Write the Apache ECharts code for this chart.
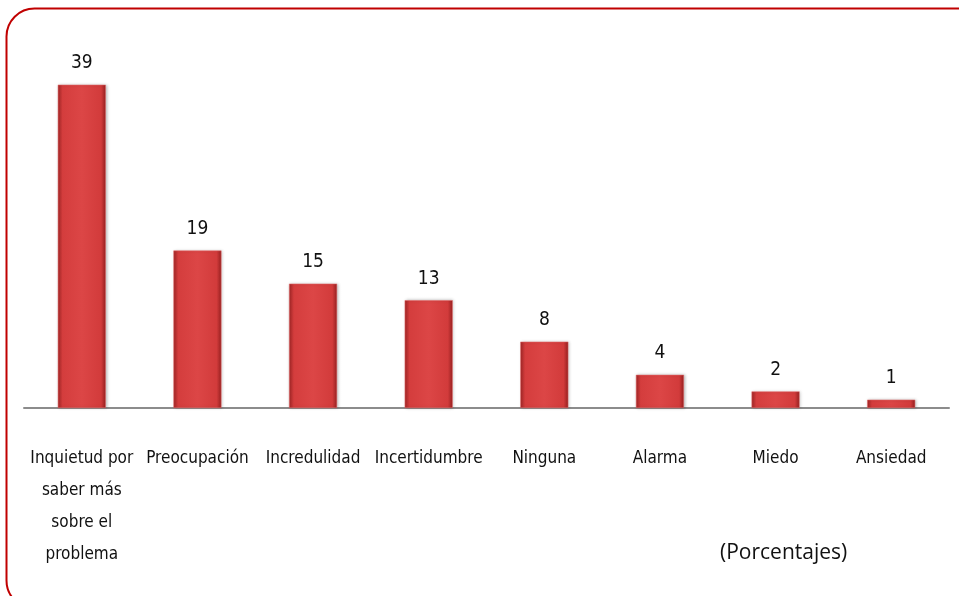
<!DOCTYPE html>
<html>
<head>
<meta charset="utf-8">
<style>
  html, body { margin: 0; padding: 0; background: #fff; }
  #chart { width: 959px; height: 596px; }
</style>
<script src="https://cdn.jsdelivr.net/npm/echarts@6/dist/echarts.min.js"></script>
</head>
<body>
<div id="chart"></div>
<script>
// categorías y valores (porcentajes)
const categories = [
  'Inquietud por\nsaber más\nsobre el\nproblema',
  'Preocupación',
  'Incredulidad',
  'Incertidumbre',
  'Ninguna',
  'Alarma',
  'Miedo',
  'Ansiedad'
];
const values = [39, 19, 15, 13, 8, 4, 2, 1];

const font = '"Liberation Sans Narrow", "DejaVu Sans Condensed", "Liberation Sans", sans-serif';

const chart = echarts.init(document.getElementById('chart'));

chart.setOption({
  backgroundColor: '#fff',
  animation: false,
  grid: {
    left: 24,
    right: 10,
    top: 35,
    bottom: 188
  },
  xAxis: {
    type: 'category',
    data: categories,
    axisLine: { lineStyle: { color: '#8c8c8c', width: 2 } },
    axisTick: { show: false },
    axisLabel: {
      interval: 0,
      margin: 35,
      fontFamily: font,
      fontSize: 17,
      color: '#111',
      lineHeight: 32,
      align: 'center'
    }
  },
  yAxis: {
    type: 'value',
    min: 0,
    max: 45,
    show: false,
    splitLine: { show: false }
  },
  series: [{
    type: 'bar',
    data: values,
    barWidth: 48,
    itemStyle: {
      color: {
        type: 'linear', x: 0, y: 0, x2: 1, y2: 0,
        colorStops: [
          { offset: 0, color: '#a32626' },
          { offset: 0.1, color: '#d43d3d' },
          { offset: 0.5, color: '#dc4646' },
          { offset: 0.9, color: '#d23b3b' },
          { offset: 1, color: '#962020' }
        ]
      },
      borderColor: '#e86a6a',
      borderWidth: 0.5,
      shadowColor: 'rgba(0,0,0,0.25)',
      shadowBlur: 3,
      shadowOffsetX: 1,
      shadowOffsetY: 0
    },
    label: {
      show: true,
      position: 'top',
      distance: 12,
      fontFamily: font,
      fontSize: 19,
      color: '#111'
    }
  }],
  graphic: [
    {
      type: 'rect',
      left: 4,
      top: 6,
      shape: { width: 980, height: 600, r: 28 },
      style: { fill: null, stroke: '#c00000', lineWidth: 2 },
      silent: true
    },
    {
      type: 'text',
      left: 720,
      top: 543,
      style: {
        text: '(Porcentajes)',
        fontFamily: '"Open Sans", "Noto Sans", sans-serif',
        fontSize: 21,
        fill: '#111'
      }
    }
  ]
});
</script>
</body>
</html>
